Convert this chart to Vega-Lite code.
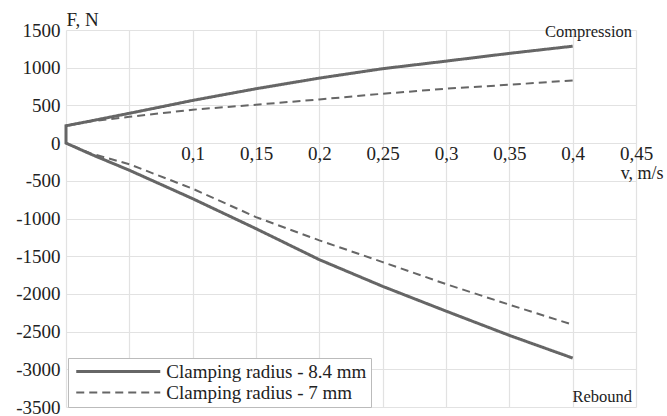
{
  "$schema": "https://vega.github.io/schema/vega-lite/v6.json",
  "width": 570,
  "height": 377,
  "autosize": "none",
  "padding": {"left": 66, "top": 30, "right": 31, "bottom": 9},
  "background": "white",
  "config": {
    "view": {"stroke": null},
    "font": "Liberation Serif",
    "style": {
      "guide-label": {"font": "Liberation Serif"},
      "guide-title": {"font": "Liberation Serif"}
    },
    "axis": {"labelFont": "Liberation Serif", "titleFont": "Liberation Serif"},
    "legend": {"labelFont": "Liberation Serif", "titleFont": "Liberation Serif"}
  },
  "datasets": {
    "curves": [
      {"series": "Clamping radius - 8.4 mm", "order": 1, "v": 0.4, "F": 1285},
      {"series": "Clamping radius - 8.4 mm", "order": 2, "v": 0.35, "F": 1190},
      {"series": "Clamping radius - 8.4 mm", "order": 3, "v": 0.3, "F": 1087},
      {"series": "Clamping radius - 8.4 mm", "order": 4, "v": 0.25, "F": 987},
      {"series": "Clamping radius - 8.4 mm", "order": 5, "v": 0.2, "F": 862},
      {"series": "Clamping radius - 8.4 mm", "order": 6, "v": 0.15, "F": 721},
      {"series": "Clamping radius - 8.4 mm", "order": 7, "v": 0.1, "F": 566},
      {"series": "Clamping radius - 8.4 mm", "order": 8, "v": 0.05, "F": 395},
      {"series": "Clamping radius - 8.4 mm", "order": 9, "v": 0.02, "F": 295},
      {"series": "Clamping radius - 8.4 mm", "order": 10, "v": 0, "F": 230},
      {"series": "Clamping radius - 8.4 mm", "order": 11, "v": 0, "F": 0},
      {"series": "Clamping radius - 8.4 mm", "order": 12, "v": 0.02, "F": -150},
      {"series": "Clamping radius - 8.4 mm", "order": 13, "v": 0.05, "F": -360},
      {"series": "Clamping radius - 8.4 mm", "order": 14, "v": 0.1, "F": -737},
      {"series": "Clamping radius - 8.4 mm", "order": 15, "v": 0.15, "F": -1135},
      {"series": "Clamping radius - 8.4 mm", "order": 16, "v": 0.2, "F": -1546},
      {"series": "Clamping radius - 8.4 mm", "order": 17, "v": 0.25, "F": -1900},
      {"series": "Clamping radius - 8.4 mm", "order": 18, "v": 0.3, "F": -2228},
      {"series": "Clamping radius - 8.4 mm", "order": 19, "v": 0.35, "F": -2550},
      {"series": "Clamping radius - 8.4 mm", "order": 20, "v": 0.4, "F": -2851},
      {"series": "Clamping radius - 7 mm", "order": 1, "v": 0.4, "F": 831},
      {"series": "Clamping radius - 7 mm", "order": 2, "v": 0.35, "F": 774},
      {"series": "Clamping radius - 7 mm", "order": 3, "v": 0.3, "F": 721},
      {"series": "Clamping radius - 7 mm", "order": 4, "v": 0.25, "F": 655},
      {"series": "Clamping radius - 7 mm", "order": 5, "v": 0.2, "F": 579},
      {"series": "Clamping radius - 7 mm", "order": 6, "v": 0.15, "F": 509},
      {"series": "Clamping radius - 7 mm", "order": 7, "v": 0.1, "F": 443},
      {"series": "Clamping radius - 7 mm", "order": 8, "v": 0.05, "F": 348},
      {"series": "Clamping radius - 7 mm", "order": 9, "v": 0.02, "F": 290},
      {"series": "Clamping radius - 7 mm", "order": 10, "v": 0, "F": 230},
      {"series": "Clamping radius - 7 mm", "order": 11, "v": 0, "F": 0},
      {"series": "Clamping radius - 7 mm", "order": 12, "v": 0.02, "F": -140},
      {"series": "Clamping radius - 7 mm", "order": 13, "v": 0.05, "F": -280},
      {"series": "Clamping radius - 7 mm", "order": 14, "v": 0.1, "F": -605},
      {"series": "Clamping radius - 7 mm", "order": 15, "v": 0.15, "F": -981},
      {"series": "Clamping radius - 7 mm", "order": 16, "v": 0.2, "F": -1290},
      {"series": "Clamping radius - 7 mm", "order": 17, "v": 0.25, "F": -1578},
      {"series": "Clamping radius - 7 mm", "order": 18, "v": 0.3, "F": -1870},
      {"series": "Clamping radius - 7 mm", "order": 19, "v": 0.35, "F": -2143},
      {"series": "Clamping radius - 7 mm", "order": 20, "v": 0.4, "F": -2408}
    ],
    "notes": [
      {"v": 0.45, "F": 1500, "label": "Compression", "pos": "top"},
      {"v": 0.45, "F": -3500, "label": "Rebound", "pos": "bottom"}
    ]
  },
  "encoding": {
    "x": {
      "field": "v", "type": "quantitative",
      "scale": {"domain": [0, 0.45], "nice": false, "zero": false},
      "axis": {
        "values": [0, 0.05, 0.1, 0.15, 0.2, 0.25, 0.3, 0.35, 0.4, 0.45],
        "orient": "bottom",
        "offset": -264,
        "domain": false,
        "ticks": false,
        "grid": true,
        "gridColor": "#e2e2e2",
        "gridWidth": 1.2,
        "gridOpacity": 1,
        "labelExpr": "datum.value < 0.07 ? '' : replace(format(datum.value, '.2~f'), '.', ',')",
        "labelFont": "Liberation Serif",
        "labelFontSize": 19,
        "labelColor": "#222222",
        "labelPadding": 1,
        "labelFlush": false,
        "labelOverlap": false,
        "title": "v, m/s",
        "titleFont": "Liberation Serif",
        "titleFontSize": 18,
        "titleFontWeight": "normal",
        "titleColor": "#222222",
        "titleAnchor": null,
        "titleX": 597,
        "titleY": 30,
        "titleAlign": "right",
        "titleBaseline": "middle"
      }
    },
    "y": {
      "field": "F", "type": "quantitative",
      "scale": {"domain": [-3500, 1500], "nice": false},
      "axis": {
        "values": [-3500, -3000, -2500, -2000, -1500, -1000, -500, 0, 500, 1000, 1500],
        "domain": false,
        "ticks": false,
        "grid": true,
        "gridColor": "#e2e2e2",
        "gridWidth": 1.2,
        "gridOpacity": 1,
        "labelExpr": "'' + datum.value",
        "labelFont": "Liberation Serif",
        "labelFontSize": 19,
        "labelColor": "#222222",
        "labelPadding": 6,
        "labelOverlap": false,
        "labelBound": false,
        "title": "F, N",
        "titleFont": "Liberation Serif",
        "titleFontSize": 19,
        "titleFontWeight": "normal",
        "titleColor": "#222222",
        "titleAngle": 0,
        "titleX": 0,
        "titleY": -11,
        "titleAlign": "left",
        "titleBaseline": "middle"
      }
    }
  },
  "layer": [
    {
      "data": {"name": "curves"},
      "mark": {"type": "line", "color": "#666666", "strokeCap": "butt"},
      "encoding": {
        "order": {"field": "order", "type": "quantitative"},
        "detail": {"field": "series"},
        "strokeDash": {
          "field": "series", "type": "nominal",
          "scale": {
            "domain": ["Clamping radius - 8.4 mm", "Clamping radius - 7 mm"],
            "range": [[1, 0], [8, 5]]
          },
          "legend": {
            "title": null,
            "orient": "none",
            "legendX": 2,
            "legendY": 328,
            "strokeColor": "#bbbbbb",
            "fillColor": "white",
            "padding": 4,
            "symbolType": "M-8.4,0H8.4",
            "symbolSize": 100,
            "symbolOffset": 36.75,
            "symbolStrokeColor": "#666666",
            "symbolStrokeWidth": 2.5,
            "labelFont": "Liberation Serif",
            "labelFontSize": 19,
            "labelColor": "#222222",
            "labelOffset": 38.5,
            "labelLimit": 400,
            "rowPadding": 1
          }
        },
        "strokeWidth": {
          "field": "series", "type": "nominal",
          "scale": {
            "domain": ["Clamping radius - 8.4 mm", "Clamping radius - 7 mm"],
            "range": [3, 2]
          },
          "legend": null
        }
      }
    },
    {
      "data": {"name": "notes"},
      "transform": [{"filter": "datum.pos == 'top'"}],
      "mark": {"type": "text", "align": "right", "baseline": "middle", "dx": -4, "dy": 2, "font": "Liberation Serif", "fontSize": 16.5, "color": "#222222"},
      "encoding": {
        "text": {"field": "label"}
      }
    },
    {
      "data": {"name": "notes"},
      "transform": [{"filter": "datum.pos == 'bottom'"}],
      "mark": {"type": "text", "align": "right", "baseline": "bottom", "dx": -4, "dy": -2, "font": "Liberation Serif", "fontSize": 16.5, "color": "#222222"},
      "encoding": {
        "text": {"field": "label"}
      }
    }
  ]
}
